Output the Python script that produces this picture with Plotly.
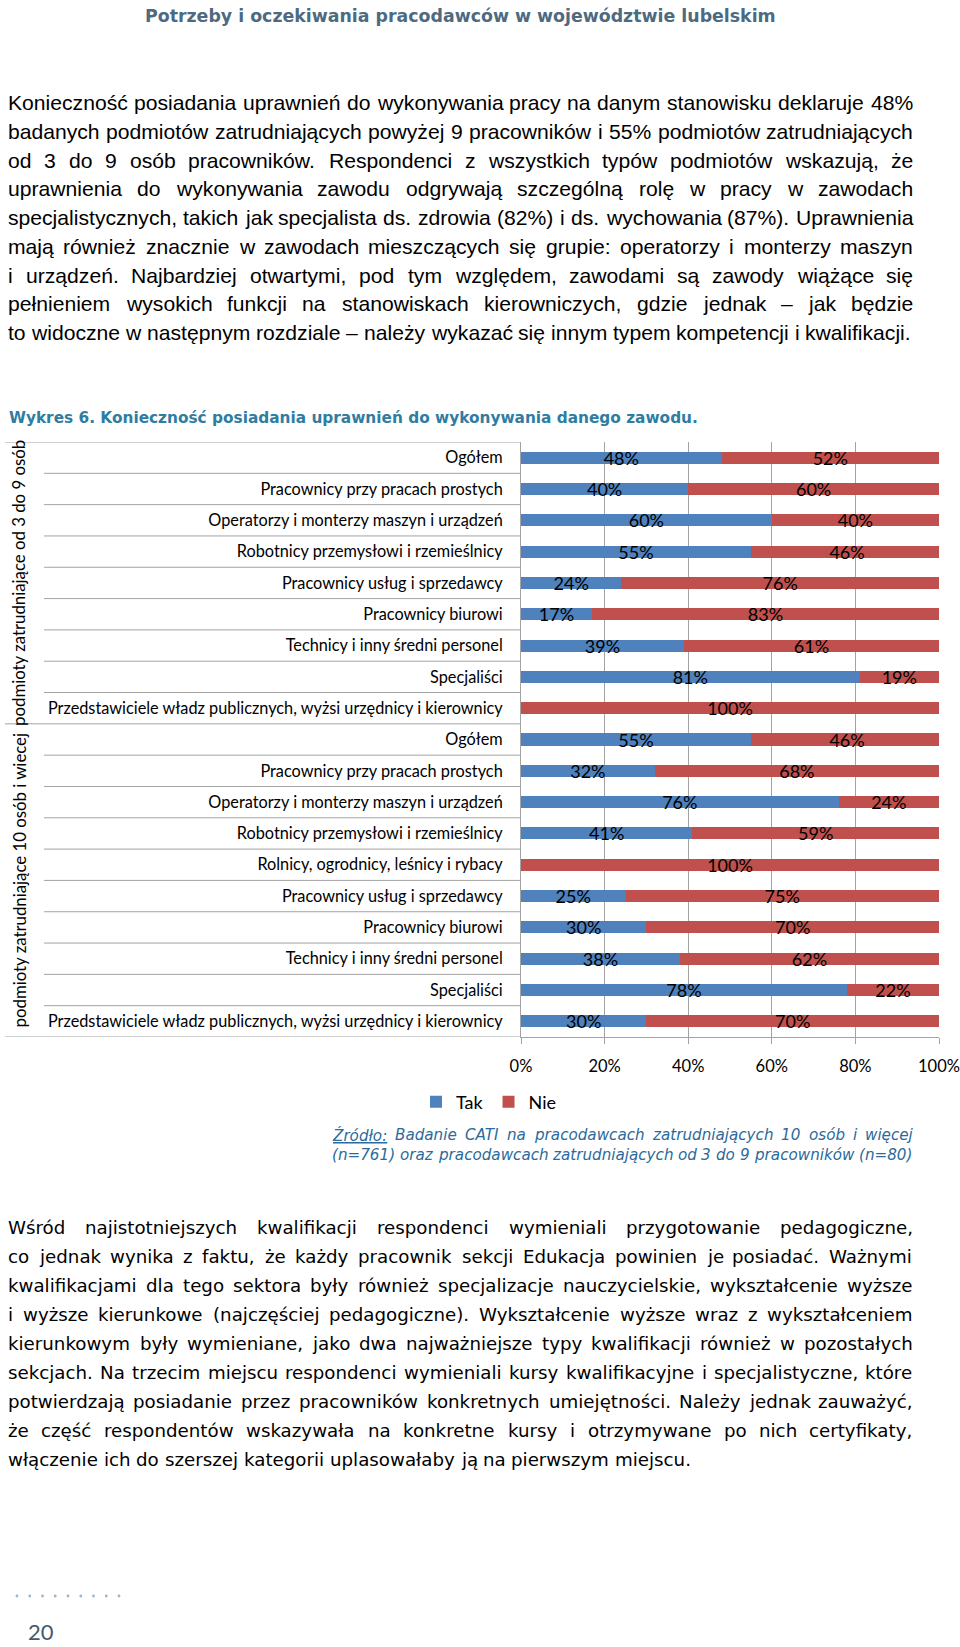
import plotly.graph_objects as go

W, H = 960, 1647

# ---------------- chart data ----------------
categories = [
    "Ogółem",
    "Pracownicy przy pracach prostych",
    "Operatorzy i monterzy maszyn i urządzeń",
    "Robotnicy przemysłowi i rzemieślnicy",
    "Pracownicy usług i sprzedawcy",
    "Pracownicy biurowi",
    "Technicy i inny średni personel",
    "Specjaliści",
    "Przedstawiciele władz publicznych, wyżsi urzędnicy i kierownicy",
    "Ogółem",
    "Pracownicy przy pracach prostych",
    "Operatorzy i monterzy maszyn i urządzeń",
    "Robotnicy przemysłowi i rzemieślnicy",
    "Rolnicy, ogrodnicy, leśnicy i rybacy",
    "Pracownicy usług i sprzedawcy",
    "Pracownicy biurowi",
    "Technicy i inny średni personel",
    "Specjaliści",
    "Przedstawiciele władz publicznych, wyżsi urzędnicy i kierownicy",
]
tak = [48, 40, 60, 55, 24, 17, 39, 81, 0, 55, 32, 76, 41, 0, 25, 30, 38, 78, 30]
nie = [52, 60, 40, 46, 76, 83, 61, 19, 100, 46, 68, 24, 59, 100, 75, 70, 62, 22, 70]
groups = ["podmioty zatrudniające od 3 do 9 osób", "podmioty zatrudniające 10 osób i wiecej"]
group_sizes = [9, 10]
x_ticks = [0, 20, 40, 60, 80, 100]
series_names = ["Tak", "Nie"]

# ---------------- page texts ----------------
header = "Potrzeby i oczekiwania pracodawców w województwie lubelskim"
para1 = [
    "Konieczność posiadania uprawnień do wykonywania pracy na danym stanowisku deklaruje 48%",
    "badanych podmiotów zatrudniających powyżej 9 pracowników i 55% podmiotów zatrudniających",
    "od 3 do 9 osób pracowników. Respondenci z wszystkich typów podmiotów wskazują, że",
    "uprawnienia do wykonywania zawodu odgrywają szczególną rolę w pracy w zawodach",
    "specjalistycznych, takich jak specjalista ds. zdrowia (82%) i ds. wychowania (87%). Uprawnienia",
    "mają również znacznie w zawodach mieszczących się grupie: operatorzy i monterzy maszyn",
    "i urządzeń. Najbardziej otwartymi, pod tym względem, zawodami są zawody wiążące się",
    "pełnieniem wysokich funkcji na stanowiskach kierowniczych, gdzie jednak – jak będzie",
    "to widoczne w następnym rozdziale – należy wykazać się innym typem kompetencji i kwalifikacji.",
]
chart_title = "Wykres 6. Konieczność posiadania uprawnień do wykonywania danego zawodu."
source = [
    "Źródło: Badanie CATI na pracodawcach zatrudniających 10 osób i więcej",
    "(n=761) oraz pracodawcach zatrudniających od 3 do 9 pracowników (n=80)",
]
para2 = [
    "Wśród najistotniejszych kwalifikacji respondenci wymieniali przygotowanie pedagogiczne,",
    "co jednak wynika z faktu, że każdy pracownik sekcji Edukacja powinien je posiadać. Ważnymi",
    "kwalifikacjami dla tego sektora były również specjalizacje nauczycielskie, wykształcenie wyższe",
    "i wyższe kierunkowe (najczęściej pedagogiczne). Wykształcenie wyższe wraz z wykształceniem",
    "kierunkowym były wymieniane, jako dwa najważniejsze typy kwalifikacji również w pozostałych",
    "sekcjach. Na trzecim miejscu respondenci wymieniali kursy kwalifikacyjne i specjalistyczne, które",
    "potwierdzają posiadanie przez pracowników konkretnych umiejętności. Należy jednak zauważyć,",
    "że część respondentów wskazywała na konkretne kursy i otrzymywane po nich certyfikaty,",
    "włączenie ich do szerszej kategorii uplasowałaby ją na pierwszym miejscu.",
]
page_number = "20"

# ---------------- font metrics (em) for justification ----------------
ACC = {'ą': 'a', 'ć': 'c', 'ę': 'e', 'ń': 'n', 'ó': 'o', 'ś': 's', 'ź': 'z', 'ż': 'z',
       'Ś': 'S', 'Ź': 'Z', 'Ż': 'Z', 'Ł': 'L', 'Ó': 'O'}


def build(upper, lower, punct, digit):
    t = dict(punct)
    for k, v in zip("ABCDEFGHIJKLMNOPQRSTUVWXYZ", upper):
        t[k] = v
    for k, v in zip("abcdefghijklmnopqrstuvwxyz", lower):
        t[k] = v
    for d in "0123456789":
        t[d] = digit
    return t


ARIAL = build(
    [.667, .667, .722, .722, .667, .611, .778, .722, .278, .5, .667, .556, .833, .722, .778, .667, .778, .722, .667, .611, .722, .667, .944, .667, .667, .611],
    [.556, .556, .5, .556, .556, .278, .556, .556, .222, .222, .5, .222, .833, .556, .556, .556, .556, .333, .5, .278, .556, .5, .722, .5, .5, .5],
    {' ': .278, '!': .278, '%': .889, '(': .333, ')': .333, ',': .278, '.': .278, '-': .333, ':': .278, ';': .278, '=': .584, '–': .556, 'ł': .222},
    .556)
DEJAVU = build(
    [.684, .686, .698, .770, .632, .575, .775, .752, .295, .295, .656, .557, .863, .748, .787, .603, .787, .695, .635, .611, .732, .684, .989, .685, .611, .685],
    [.613, .635, .550, .635, .615, .352, .635, .634, .278, .278, .579, .278, .974, .634, .612, .635, .635, .411, .521, .392, .634, .592, .818, .592, .592, .525],
    {' ': .318, '!': .401, '%': .950, '(': .390, ')': .390, ',': .318, '.': .318, '-': .361, ':': .337, ';': .337, '=': .838, '–': .5, 'ł': .30},
    .636)


def em(text, table):
    return sum(table.get(ACC.get(c, c), 0.6) for c in text)


def px(X):
    return X / W


def py(Y):
    return 1 - Y / H


annotations = []


def paragraph(lines, x0, x1, y0, step, family, table, size, color, italic=False, last_justified=False, fmt=None):
    for k, line in enumerate(lines):
        words = line.split(' ')
        ws = [em(w, table) * size for w in words]
        is_last = (k == len(lines) - 1) and not last_justified
        if is_last or len(words) == 1:
            gap = table[' '] * size
        else:
            gap = (x1 - x0 - sum(ws)) / (len(words) - 1)
        x = x0
        for w, wd in zip(words, ws):
            txt = fmt(w) if fmt else w
            annotations.append(dict(
                text=txt, x=px(x), y=py(y0 + k * step), xref="paper", yref="paper",
                xanchor="left", yanchor="middle", showarrow=False, borderpad=0, borderwidth=0,
                font=dict(family=family, size=size, color=color, style="italic" if italic else "normal")))
            x += wd + gap


def fit_size(lines, last_width, full_width, table):
    s_last = last_width / em(lines[-1], table)
    s_fit = min(full_width / em(l, table) for l in lines[:-1])
    return min(s_last, s_fit * 0.995)


# paragraph 1 (Arial-like)
s1 = fit_size(para1, 903, 905, ARIAL)
paragraph(para1, 8, 913, 102.5, 28.75, "Liberation Sans", ARIAL, s1, "#000000")

# paragraph 2 (Tahoma-like)
s2 = fit_size(para2, 683, 905, DEJAVU)
paragraph(para2, 8, 913, 1227, 29.0, "DejaVu Sans", DEJAVU, s2, "#000000")

# source note
s3 = fit_size(source, 580, 581, DEJAVU)
paragraph(source, 332, 913, 1135, 19.5, "DejaVu Sans", DEJAVU, s3, "#2B6A9B", italic=True,
          fmt=lambda w: "<u>" + w + "</u>" if w.startswith("Źródło") else w)

# header
hs = 615 / (em(header, DEJAVU) * 1.10)
annotations.append(dict(text="<b>" + header + "</b>", x=px(460), y=py(16), xref="paper", yref="paper",
                        xanchor="center", yanchor="middle", showarrow=False,
                        font=dict(family="DejaVu Sans", size=hs, color="#4E6A80")))
# chart title
ts = 675 / (em(chart_title, DEJAVU) * 1.10)
annotations.append(dict(text="<b>" + chart_title + "</b>", x=px(8), y=py(418), xref="paper", yref="paper",
                        xanchor="left", yanchor="middle", showarrow=False, borderpad=0,
                        font=dict(family="DejaVu Sans", size=ts, color="#2F7DA1")))
# page number
annotations.append(dict(text=page_number, x=px(27), y=py(1631), xref="paper", yref="paper",
                        xanchor="left", yanchor="middle", showarrow=False, borderpad=0,
                        font=dict(family="Lato", size=22, color="#4A5968")))

# ---------------- chart geometry ----------------
TOP, BOT, LEFT, RIGHT = 442, 1037, 521, 939
GRID = "#A3A3A3"
n = len(categories)
ypos = list(range(n))

# group labels (rotated)
start = 0
for g, cnt in zip(groups, group_sizes):
    mid = (start + start + cnt - 1) / 2
    annotations.append(dict(text=g, x=px(19), y=mid, xref="paper", yref="y", textangle=-90,
                            xanchor="center", yanchor="middle", showarrow=False,
                            font=dict(family="Lato", size=16.8, color="#000000")))
    start += cnt

shapes = []
# table lines in category area
boundaries = []
acc = 0
for cnt in group_sizes:
    acc += cnt
    boundaries.append(acc - 0.5)
shapes.append(dict(type="line", xref="paper", yref="y", x0=px(5), x1=px(LEFT), y0=-0.5, y1=-0.5,
                   line=dict(color=GRID, width=1)))
for i in range(n - 1):
    b = i + 0.5
    x0 = 5 if b in boundaries else 44
    shapes.append(dict(type="line", xref="paper", yref="y", x0=px(x0), x1=px(LEFT), y0=b, y1=b,
                       line=dict(color=GRID, width=1)))
shapes.append(dict(type="line", xref="paper", yref="y", x0=px(5), x1=px(LEFT), y0=n - 0.5, y1=n - 0.5,
                   line=dict(color=GRID, width=1)))
# footer dots
for k in range(9):
    cx = 17 + k * 12.75
    shapes.append(dict(type="circle", xref="paper", yref="paper",
                       x0=px(cx - 1.4), x1=px(cx + 1.4), y0=py(1596 + 1.4), y1=py(1596 - 1.4),
                       fillcolor="#9DB3C6", line=dict(width=0)))

fig = go.Figure()
colors = ["#4F81BD", "#C0504D"]
for name, vals, col in zip(series_names, [tak, nie], colors):
    fig.add_trace(go.Bar(
        y=ypos, x=vals, orientation="h", name=name, marker=dict(color=col, line=dict(width=0)),
        text=[f"{v}%" if v > 0 else "" for v in vals], textposition="inside",
        insidetextanchor="middle", textangle=0, constraintext="none",
        textfont=dict(family="Lato", size=18, color="#000000"), hoverinfo="skip"))

fig.update_layout(
    template="none",
    width=W, height=H, autosize=False,
    margin=dict(l=0, r=0, t=0, b=0, pad=0),
    paper_bgcolor="white", plot_bgcolor="white",
    barmode="stack", bargap=0.615,
    font=dict(family="Lato", color="#000000"),
    xaxis=dict(domain=[px(LEFT), px(RIGHT)], range=[0, 100], tickvals=x_ticks,
               ticktext=[f"{t}%" for t in x_ticks], showgrid=True, gridcolor=GRID, gridwidth=1,
               showline=True, linecolor=GRID, linewidth=1, ticks="outside", ticklen=6,
               tickcolor=GRID, zeroline=False, automargin=False, fixedrange=True,
               tickfont=dict(family="Lato", size=16.5, color="#000000"), ticklabelstandoff=8),
    yaxis=dict(domain=[py(BOT), py(TOP)], range=[n - 0.5, -0.5], tickvals=ypos, ticktext=categories,
               showgrid=False, showline=True, linecolor=GRID, linewidth=1, ticks="",
               zeroline=False, automargin=False, fixedrange=True,
               tickfont=dict(family="Lato", size=16.3, color="#000000"), ticklabelstandoff=14),
    showlegend=True,
    legend=dict(orientation="h", x=px(416), y=py(1102), xanchor="left", yanchor="middle",
                font=dict(family="Lato", size=18, color="#000000"), bgcolor="rgba(0,0,0,0)",
                itemwidth=30, traceorder="normal"),
    annotations=annotations,
    shapes=shapes,
)

fig.write_html("out.html", config={"displayModeBar": False},
               post_script="document.body.style.margin='0';")
